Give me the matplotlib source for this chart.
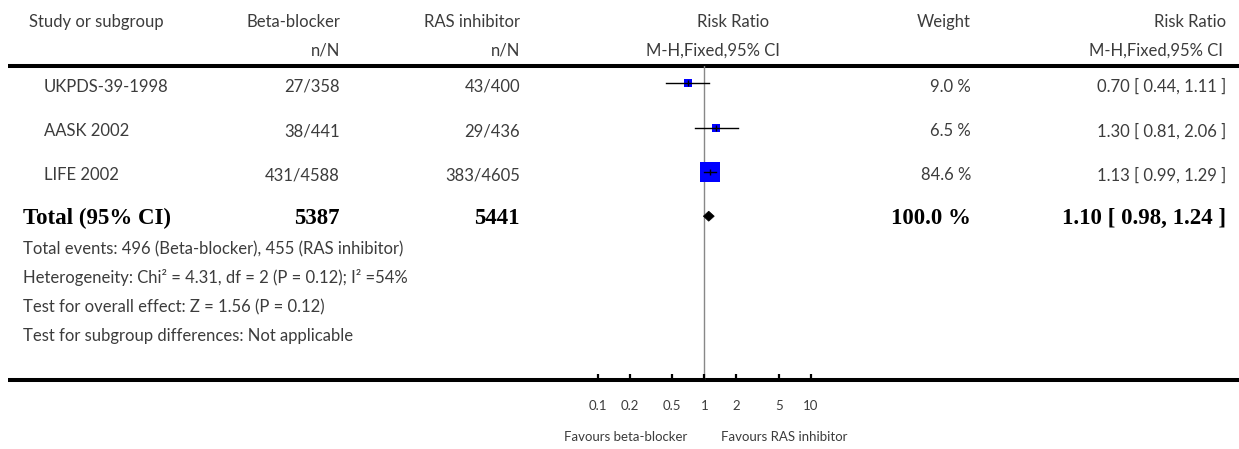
import matplotlib
matplotlib.use("Agg")
import matplotlib.pyplot as plt
from matplotlib.patches import Polygon

# study level data
studies = ["UKPDS-39-1998", "AASK 2002", "LIFE 2002"]
bb_events = [27, 38, 431]
bb_total = [358, 441, 4588]
ras_events = [43, 29, 383]
ras_total = [400, 436, 4605]
weights = [9.0, 6.5, 84.6]
rr = [0.70, 1.30, 1.13]
rr_lo = [0.44, 0.81, 0.99]
rr_hi = [1.11, 2.06, 1.29]

# pooled estimate
pooled_rr, pooled_lo, pooled_hi = 1.10, 0.98, 1.24
pooled_w = 100.0

footnotes = [
    "Total events: 496 (Beta-blocker), 455 (RAS inhibitor)",
    "Heterogeneity: Chi² = 4.31, df = 2 (P = 0.12); I² =54%",
    "Test for overall effect: Z = 1.56 (P = 0.12)",
    "Test for subgroup differences: Not applicable",
]
ticks = [0.1, 0.2, 0.5, 1, 2, 5, 10]
tick_labels = ["0.1", "0.2", "0.5", "1", "2", "5", "10"]

W, H = 1239, 449
fig = plt.figure(figsize=(W / 100, H / 100), dpi=100)

FONT = "Lato"
TXT = "#3c3c3c"
SERIF = "Liberation Serif"
fs = 12

# overlay in pixel coords for the table part
tab = fig.add_axes([0, 0, 1, 1])
tab.set_xlim(0, W)
tab.set_ylim(H, 0)
tab.axis("off")

# forest axes, pixel y units, log x
top_y, bot_y = 66, 380
x_lo_px, x_hi_px = 597.8, 810.8
ax = fig.add_axes([x_lo_px / W, (H - bot_y) / H, (x_hi_px - x_lo_px) / W, (bot_y - top_y) / H])
ax.set_xscale("log")
ax.set_xlim(0.1, 10)
ax.set_ylim(bot_y, top_y)
for s in ax.spines.values():
    s.set_visible(False)
ax.set_facecolor("none")
ax.set_yticks([])
ax.set_xticks(ticks)
ax.set_xticklabels(tick_labels, fontfamily=FONT, fontsize=9.5, color=TXT)
ax.minorticks_off()
ax.tick_params(axis="x", direction="in", length=4.5, width=1.6, pad=14.5, color="black")

ax.axvline(1, color="#888888", lw=1.0, zorder=1)

row0, step = 83.3, 44.3
text_dy = 3.5

def col(x, y, s, ha="right", bold=False, size=fs):
    if bold:
        tab.text(x, y, s, ha=ha, va="center", fontfamily=SERIF, fontweight="bold",
                 fontsize=16.5, color="black")
    else:
        tab.text(x, y, s, ha=ha, va="center", fontfamily=FONT, fontsize=size, color=TXT)

# header
hy1, hy2 = 22, 51
col(29, hy1, "Study or subgroup", ha="left")
col(340, hy1, "Beta-blocker")
col(340, hy2, "n/N")
col(520, hy1, "RAS inhibitor")
col(520, hy2, "n/N")
col(733, hy1, "Risk Ratio", ha="center")
col(713, hy2, "M-H,Fixed,95% CI", ha="center")
col(971, hy1, "Weight")
col(1226, hy1, "Risk Ratio")
col(1223, hy2, "M-H,Fixed,95% CI")

tab.plot([8, W], [top_y, top_y], color="black", lw=2.9, solid_capstyle="butt")
tab.plot([8, W], [bot_y, bot_y], color="black", lw=2.9, solid_capstyle="butt")

max_w = max(weights)
for i, name in enumerate(studies):
    y = row0 + step * i
    ty = y + text_dy
    col(44, ty, name, ha="left")
    col(340, ty, f"{bb_events[i]}/{bb_total[i]}")
    col(520, ty, f"{ras_events[i]}/{ras_total[i]}")
    col(971, ty, f"{weights[i]:.1f} %")
    col(1226, ty, f"{rr[i]:.2f} [ {rr_lo[i]:.2f}, {rr_hi[i]:.2f} ]")

    side_px = max(7.5, 19.5 * (weights[i] / max_w) ** 0.5)
    ax.plot([rr[i]], [y], marker="s", ms=side_px * 0.72, color="#0000ff",
            mec="#0000ff", mew=0, ls="none", zorder=3)
    ax.plot([rr_lo[i], rr_hi[i]], [y, y], color="black", lw=1.0, zorder=4)
    ax.plot([rr[i]], [y], marker="|", ms=4, mew=1.0, color="black", zorder=5)

# total row
ty = row0 + step * 3
col(23, ty + 2, "Total (95% CI)", ha="left", bold=True)
col(340, ty + 2, f"{sum(bb_total)}", bold=True)
col(520, ty + 2, f"{sum(ras_total)}", bold=True)
col(971, ty + 2, f"{pooled_w:.1f} %", bold=True)
col(1226, ty + 2, f"{pooled_rr:.2f} [ {pooled_lo:.2f}, {pooled_hi:.2f} ]", bold=True)

dy = 5
ax.add_patch(Polygon([(pooled_lo, ty), (pooled_rr, ty - dy), (pooled_hi, ty), (pooled_rr, ty + dy)],
                     closed=True, facecolor="black", edgecolor="black", lw=0.5, zorder=5))

for k, line in enumerate(footnotes):
    col(23, 249 + 29 * k, line, ha="left")

tab.text(687, 437, "Favours beta-blocker", ha="right", va="center", fontfamily=FONT,
         fontsize=9.5, color=TXT)
tab.text(721, 437, "Favours RAS inhibitor", ha="left", va="center", fontfamily=FONT,
         fontsize=9.5, color=TXT)

fig.savefig("out.png", dpi=100, facecolor="white")
